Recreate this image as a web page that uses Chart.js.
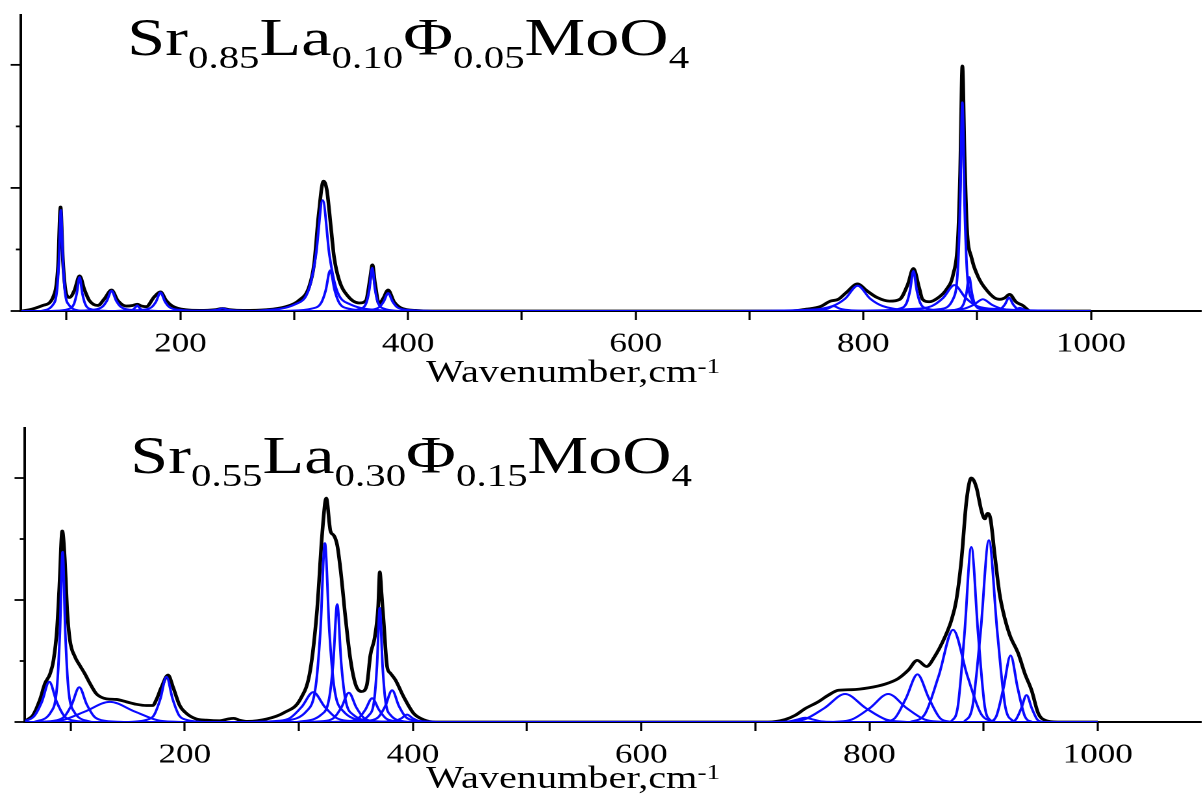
<!DOCTYPE html>
<html>
<head>
<meta charset="utf-8">
<script src="https://cdn.jsdelivr.net/npm/chart.js@4.4.1/dist/chart.umd.min.js"></script>
<style>
  html, body { margin: 0; padding: 0; background: #fff; overflow: hidden; width: 1203px; height: 796px; }
  /* the original figure is stretched sideways, so the whole stage is too */
  #stage { position: absolute; left: 0; top: 0; width: 926px; height: 796px;
           transform: scaleX(1.2991); transform-origin: 0 0;
           font-family: "Liberation Serif", "Times New Roman", serif; color: #000; }
  .panel { position: absolute; left: 0; width: 926px; }
  .formula { position: absolute; font-size: 52.5px; line-height: 1; white-space: nowrap; }
  .formula span { font-size: 31.5px; position: relative; top: 13px; }
  .axis-title { position: absolute; font-size: 31px; line-height: 1; white-space: nowrap; }
  .axis-title span { font-size: 21px; position: relative; top: -9px; }
</style>
</head>
<body>
<div id="stage">
  <div class="panel" style="top:0;height:400px"><canvas id="topChart"></canvas></div>
  <div class="panel" style="top:400px;height:396px"><canvas id="bottomChart"></canvas></div>

  <div class="formula" style="left:98px;top:11px">Sr<span>0.85</span>La<span>0.10</span>Φ<span>0.05</span>MoO<span>4</span></div>
  <div class="formula" style="left:100.3px;top:429px">Sr<span>0.55</span>La<span>0.30</span>Φ<span>0.15</span>MoO<span>4</span></div>

  <div class="axis-title" style="left:328px;top:356px">Wavenumber,cm<span>-1</span></div>
  <div class="axis-title" style="left:328px;top:762px">Wavenumber,cm<span>-1</span></div>
</div>

<script>
// axis ticks
const xTickValues = [100, 200, 300, 400, 500, 600, 700, 800, 900, 1000];
const xLabelValues = [200, 400, 600, 800, 1000];
const yTickValues = [0, 1, 2, 3, 4];

// measured spectrum, top sample (Sr0.85)
const topTotal = [
  [60,0],[67.5,.02],[79,.09],[88,.22],[92.4,.7],[94.7,1.69],[96.8,.82],[99.7,.28],[102.6,.22],[107,.34],
  [111.4,.57],[115.8,.34],[120,.17],[127.5,.09],[133.3,.2],[139.5,.34],[145,.17],[152.4,.08],[158,.09],
  [162,.11],[166,.08],[170,.07],[177,.23],[182.5,.31],[187.5,.17],[193,.08],[205,.02],[217,.01],[230,.02],
  [237,.04],[244,.02],[255,.01],[275,.02],[292.7,.07],[304,.17],[313,.39],[317.5,.77],[321.3,1.54],
  [325.7,2.11],[328.7,1.96],[332.2,1.37],[335,.88],[339.5,.5],[346.8,.25],[357,.13],[363,.17],[366.4,.5],
  [368.7,.75],[371,.45],[374.6,.12],[378,.2],[382.5,.34],[387.7,.15],[395,.04],[406.7,.01],[420,0],
  [736,0],[750,.03],[762,.07],[771,.16],[778,.19],[785,.3],[795,.44],[803,.33],[812,.22],[823,.16],
  [832,.19],[839,.43],[844,.69],[849,.38],[852,.19],[858,.15],[866,.22],[873,.35],[879,.6],[883,1.14],
  [885,2.22],[887,3.98],[889,2.49],[891,1.36],[895,.87],[901,.55],[907,.37],[915.5,.21],[920,.19],
  [924,.21],[928.5,.27],[934,.15],[940,.09],[947,0],[1000,0]
];

// fitted bands, top sample
const topBands = [
  [[77.5,0],[88,.10],[91.5,.33],[93.3,.82],[95,1.64],[96.8,.82],[98.5,.33],[102,.10],[112.5,0]],
  [[86.4,0],[101.4,.03],[106.4,.11],[108.9,.28],[111.4,.55],[113.9,.28],[116.4,.11],[121.4,.03],[136.4,0]],
  [[99.5,0],[123.5,.02],[131.5,.07],[135.5,.17],[139.5,.33],[143.5,.17],[147.5,.07],[155.5,.02],[179.5,0]],
  [[142,0],[154,.01],[158,.02],[160,.05],[162,.09],[164,.05],[166,.02],[170,.01],[182,0]],
  [[142.5,0],[166.5,.02],[174.5,.06],[178.5,.15],[182.5,.30],[186.5,.15],[190.5,.06],[198.5,.02],[222.5,0]],
  [[207,0],[227,.01],[232,.02],[237,.04],[242,.02],[247,.01],[267,0]],
  [[265,0],[301,.11],[313,.36],[319,.90],[325,1.80],[331,.90],[337,.36],[349,.11],[385,0]],
  [[291.6,0],[315.6,.04],[323.6,.13],[327.6,.33],[331.6,.66],[335.6,.33],[339.6,.13],[347.6,.04],[371.6,0]],
  [[343.5,0],[358.5,.04],[363.5,.14],[366,.35],[368.5,.70],[371,.35],[373.5,.14],[378.5,.04],[393.5,0]],
  [[342.5,0],[366.5,.02],[374.5,.06],[378.5,.15],[382.5,.29],[386.5,.15],[390.5,.06],[398.5,.02],[422.5,0]],
  [[744,0],[764,.02],[769,.04],[774,.08],[779,.04],[784,.02],[804,0]],
  [[685,0],[751,.02],[773,.08],[784,.2],[795,.41],[806,.2],[817,.08],[839,.02],[905,0]],
  [[814,0],[832,.04],[838,.13],[841,.33],[844,.65],[847,.33],[850,.13],[856,.04],[874,0]],
  [[780,0],[840,.03],[860,.08],[870,.21],[880,.42],[890,.21],[900,.08],[920,.03],[980,0]],
  [[847,0],[867,.03],[879,.20],[883,.68],[885,1.70],[887,3.39],[889,1.70],[891,.68],[895,.20],[907,.03],[927,0]],
  [[868,0],[883,.03],[888,.11],[890.5,.28],[893,.55],[895.5,.28],[898,.11],[903,.03],[918,0]],
  [[825,0],[873,.01],[889,.04],[897,.10],[905,.19],[913,.10],[921,.04],[937,.01],[985,0]],
  [[893,0],[914,.01],[921,.04],[924.5,.11],[928,.22],[931.5,.11],[935,.04],[942,.01],[963,0]],
  [[913.5,0],[931.5,.01],[934.5,.03],[937.5,.05],[940.5,.03],[943.5,.01],[961.5,0]]
];

// measured spectrum, bottom sample (Sr0.55)
const bottomTotal = [
  [60,0],[61.5,.03],[67,.11],[73,.36],[77.5,.63],[82,.79],[85,1.01],[88,1.5],[90,2.16],[92.7,3.13],
  [95,2.65],[97,1.83],[99.4,1.34],[103.8,1.07],[108,.93],[112.5,.79],[117,.63],[122.7,.46],[131.5,.38],
  [140,.37],[149,.33],[157.7,.29],[166.5,.27],[172,.27],[175,.36],[179.6,.57],[185.4,.77],[189.8,.57],
  [195.6,.27],[201.5,.14],[210,.05],[219,.03],[230.6,.02],[238,.05],[243,.06],[248,.03],[255,.01],
  [272,.05],[286.7,.15],[301.5,.38],[310,.85],[316,1.85],[320.5,3.1],[324,3.67],[327.7,3.13],[330.6,3.06],
  [333.6,2.9],[336.5,2.5],[340.9,1.7],[345,1.05],[349.6,.62],[355,.5],[359.5,.6],[362.7,1.1],[366.6,1.4],
  [369.5,1.89],[370.9,2.46],[372.5,2.1],[374.4,1.62],[377.3,.91],[380.2,.8],[384.6,.69],[391.9,.41],
  [400.6,.14],[409,.04],[420,0],[711,0],[726,.04],[735,.11],[743.7,.22],[755,.33],[764,.44],[772.8,.52],
  [784.4,.53],[799,.56],[813.5,.62],[825,.71],[834,.85],[841.8,1.01],[850,.91],[857,1.07],[866,1.39],
  [871.8,1.67],[876,1.99],[880.5,2.65],[885,3.63],[889.2,4.0],[893.6,3.85],[898,3.47],[901,3.33],
  [903.5,3.42],[906,3.33],[909.6,2.76],[914,2.1],[918.5,1.7],[923,1.42],[930.4,1.12],[936.2,.79],
  [942,.52],[947.9,.14],[953.7,.03],[965,0],[1000,0]
];

// fitted bands, bottom sample
const bottomBands = [
  [[42.3,0],[61.8,.03],[68.3,.10],[74.8,.33],[81.3,.66],[87.8,.33],[94.3,.10],[100.8,.03],[120.3,0]],
  [[68,0],[83,.17],[88,.56],[90.5,1.40],[93,2.79],[95.5,1.40],[98,.56],[103,.17],[118,0]],
  [[68.6,0],[88.1,.03],[94.6,.09],[101.1,.29],[107.6,.57],[114.1,.29],[120.6,.09],[127.1,.03],[146.6,0]],
  [[68.4,0],[90.4,.02],[112.4,.17],[134.4,.33],[156.4,.17],[178.4,.02],[200.4,0]],
  [[151,0],[167.5,.04],[173,.11],[178.5,.37],[184,.74],[189.5,.37],[195,.11],[200.5,.04],[217,0]],
  [[252.6,0],[282.6,.02],[292.6,.07],[302.6,.25],[312.6,.49],[322.6,.25],[332.6,.07],[342.6,.02],[372.6,0]],
  [[282.8,0],[306.8,.18],[314.8,.59],[318.8,1.47],[322.8,2.93],[326.8,1.47],[330.8,.59],[338.8,.18],[362.8,0]],
  [[298.6,0],[319.6,.12],[326.6,.39],[330.1,.97],[333.6,1.93],[337.1,.97],[340.6,.39],[347.6,.12],[368.6,0]],
  [[304.8,0],[324.3,.02],[330.8,.07],[337.3,.24],[343.8,.48],[350.3,.24],[356.8,.07],[363.3,.02],[382.8,0]],
  [[328.2,0],[346.2,.02],[352.2,.06],[358.2,.20],[364.2,.39],[370.2,.20],[376.2,.06],[382.2,.02],[400.2,0]],
  [[346.9,0],[361.3,.11],[366.1,.37],[368.5,.94],[370.9,1.87],[373.3,.94],[375.7,.37],[380.5,.11],[394.9,0]],
  [[345.7,0],[363.7,.03],[369.7,.08],[375.7,.26],[381.7,.52],[387.7,.26],[393.7,.08],[399.7,.03],[417.7,0]],
  [[364.8,0],[379.8,.01],[384.8,.02],[389.8,.06],[394.8,.12],[399.8,.06],[404.8,.02],[409.8,.01],[424.8,0]],
  [[715,0],[729.7,.01],[736.7,.04],[743.7,.07],[750.7,.04],[757.7,.01],[772,0]],
  [[724.6,0],[742.6,.04],[760.6,.23],[778.6,.46],[796.6,.23],[814.6,.04],[832.6,0]],
  [[768.4,0],[784.4,.04],[800.4,.23],[816.4,.46],[832.4,.23],[848.4,.04],[864.4,0]],
  [[812,0],[822,.06],[832,.39],[842,.78],[852,.39],[862,.06],[872,0]],
  [[835.7,0],[848.2,.12],[860.7,.76],[873.2,1.51],[885.7,.76],[898.2,.12],[910.7,0]],
  [[871.2,0],[877.2,.23],[883.2,1.44],[889.2,2.87],[895.2,1.44],[901.2,.23],[907.2,0]],
  [[882.8,0],[890.1,.24],[897.4,1.49],[904.6,2.98],[911.9,1.49],[919.1,.24],[926.4,0]],
  [[904.7,0],[911,.09],[917.3,.55],[923.6,1.09],[929.9,.55],[936.2,.09],[942.5,0]],
  [[923.5,0],[928.2,.04],[932.9,.22],[937.6,.44],[942.3,.22],[947,.04],[951.7,0]]
];

// blue fit baseline along the axis
const fitBaseline = [[60,0],[1000,0]];

function toXY(points) {
  return points.map(p => ({ x: p[0], y: p[1] }));
}

// draws the short/long tick marks on the left axis
const yTickMarks = {
  id: 'yTickMarks',
  afterDraw(chart) {
    const ctx = chart.ctx;
    const area = chart.chartArea;
    const y = chart.scales.y;
    ctx.save();
    ctx.strokeStyle = '#000';
    ctx.lineWidth = 1.8;
    yTickValues.forEach(v => {
      const py = y.getPixelForValue(v);
      const len = v % 2 === 0 ? 8 : 4;
      ctx.beginPath();
      ctx.moveTo(area.left - len, py);
      ctx.lineTo(area.left, py);
      ctx.stroke();
    });
    ctx.restore();
  }
};

function makeChart(canvasId, total, bands, opts) {
  const datasets = [{
    data: toXY(total),
    borderColor: '#000000',
    borderWidth: 2.8,
    order: 2
  }];
  bands.forEach(b => {
    datasets.push({ data: toXY(b), borderColor: '#0a0aff', borderWidth: 2, order: 1 });
  });
  datasets.push({ data: toXY(fitBaseline), borderColor: '#0a0aff', borderWidth: 2, order: 1 });

  return new Chart(document.getElementById(canvasId), {
    type: 'line',
    data: { datasets: datasets },
    options: {
      responsive: true,
      maintainAspectRatio: false,
      animation: false,
      devicePixelRatio: 2,
      layout: { padding: { top: opts.areaTop, left: 0, right: 0, bottom: 0 } },
      elements: {
        point: { radius: 0 },
        line: { cubicInterpolationMode: 'monotone', fill: false }
      },
      plugins: { legend: { display: false }, tooltip: { enabled: false } },
      scales: {
        x: {
          type: 'linear',
          min: 60,
          max: opts.xMax,
          afterBuildTicks: s => { s.ticks = xTickValues.map(v => ({ value: v })); },
          afterFit: s => { s.height = opts.height - opts.areaBottom; },
          ticks: {
            autoSkip: false,
            maxRotation: 0,
            padding: 8,
            color: '#000',
            font: { family: '"Liberation Serif", serif', size: 27 },
            callback: v => xLabelValues.includes(v) ? String(v) : ''
          },
          grid: { display: true, drawOnChartArea: false, drawTicks: true, tickLength: 9, tickColor: '#000', tickWidth: 1.6 },
          border: { display: true, color: '#000', width: 2 }
        },
        y: {
          min: 0,
          max: opts.yMax,
          afterFit: s => { s.width = opts.areaLeft; },
          ticks: { display: false },
          grid: { display: false },
          border: { display: true, color: '#000', width: 2 }
        }
      }
    },
    plugins: [yTickMarks]
  });
}

makeChart('topChart', topTotal, topBands, { height: 400, areaTop: 15, areaBottom: 311, areaLeft: 16.2, xMax: 1096.8, yMax: 4.81 });
makeChart('bottomChart', bottomTotal, bottomBands, { height: 396, areaTop: 28, areaBottom: 322, areaLeft: 19.2, xMax: 1090.6, yMax: 4.82 });
</script>
</body>
</html>
